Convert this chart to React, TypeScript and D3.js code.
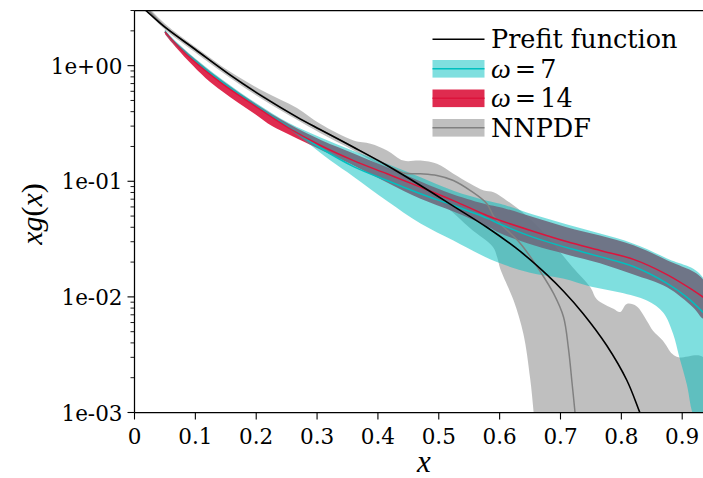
import React from "react";
import * as d3 from "d3";

const W = 703;
const H = 478;

// x tick values and labels
const xTicks = [0, 0.1, 0.2, 0.3, 0.4, 0.5, 0.6, 0.7, 0.8, 0.9];
const xTickLabels = ["0", "0.1", "0.2", "0.3", "0.4", "0.5", "0.6", "0.7", "0.8", "0.9"];
const yTicks = [1e-3, 1e-2, 1e-1, 1];
const yTickLabels = ["1e-03", "1e-02", "1e-01", "1e+00"];

// Prefit function (black)
const prefitX = [0.0, 0.02, 0.05, 0.1, 0.158, 0.212, 0.267, 0.305, 0.36, 0.415, 0.47, 0.524, 0.579, 0.634, 0.678, 0.705, 0.737, 0.776, 0.809, 0.831, 0.86];
const prefitY = [3.7, 2.96, 2.15, 1.38, 0.823, 0.534, 0.359, 0.28, 0.197, 0.137, 0.092, 0.061, 0.04, 0.0247, 0.0155, 0.0112, 0.0072, 0.0038, 0.0019, 0.00098, 0.0004];

// NNPDF band & central line
const nnpdfUpX = [0.01, 0.05, 0.1, 0.158, 0.212, 0.267, 0.305, 0.36, 0.388, 0.415, 0.442, 0.47, 0.497, 0.524, 0.552, 0.574, 0.59, 0.612, 0.634, 0.66, 0.69, 0.72, 0.749, 0.76, 0.787, 0.798, 0.809, 0.825, 0.842, 0.852, 0.868, 0.884, 0.894, 0.935];
const nnpdfUpY = [3.8, 2.3, 1.45, 0.88, 0.6, 0.43, 0.314, 0.225, 0.211, 0.185, 0.151, 0.151, 0.1416, 0.116, 0.095, 0.0832, 0.0805, 0.068, 0.0558, 0.042, 0.028, 0.018, 0.0121, 0.0095, 0.0079, 0.0074, 0.0087, 0.0083, 0.0062, 0.0051, 0.0042, 0.0032, 0.003, 0.003];
const nnpdfLoX = [0.01, 0.05, 0.1, 0.158, 0.212, 0.267, 0.305, 0.36, 0.404, 0.458, 0.514, 0.552, 0.589, 0.596, 0.601, 0.623, 0.639, 0.65, 0.656, 0.66, 0.935];
const nnpdfLoY = [3.4, 2.05, 1.3, 0.78, 0.505, 0.34, 0.262, 0.185, 0.137, 0.096, 0.059, 0.039, 0.027, 0.022, 0.0175, 0.0093, 0.0048, 0.002, 0.00098, 0.0005, 0.0005];
const nnpdfMidX = [0.01, 0.05, 0.1, 0.158, 0.212, 0.267, 0.305, 0.36, 0.4, 0.442, 0.47, 0.497, 0.524, 0.552, 0.579, 0.59, 0.601, 0.634, 0.667, 0.689, 0.705, 0.713, 0.719, 0.724, 0.735];
const nnpdfMidY = [3.6, 2.17, 1.38, 0.83, 0.54, 0.36, 0.28, 0.197, 0.152, 0.118, 0.116, 0.112, 0.1016, 0.083, 0.064, 0.05, 0.043, 0.029, 0.0165, 0.0106, 0.0067, 0.0036, 0.0018, 0.00098, 0.0002];

// omega = 7 (cyan)
const w7X = [0.05, 0.062, 0.089, 0.144, 0.199, 0.253, 0.305, 0.36, 0.415, 0.47, 0.524, 0.579, 0.601, 0.656, 0.71, 0.765, 0.82, 0.875, 0.908, 0.935];
const w7Y = [1.97, 1.65, 1.225, 0.72, 0.453, 0.294, 0.195, 0.134, 0.1016, 0.078, 0.0618, 0.048, 0.0425, 0.0327, 0.0267, 0.0223, 0.0183, 0.0131, 0.0099, 0.0073];
const w7UpX = [0.05, 0.062, 0.089, 0.144, 0.199, 0.253, 0.305, 0.36, 0.415, 0.47, 0.524, 0.579, 0.601, 0.655, 0.711, 0.765, 0.819, 0.875, 0.935];
const w7UpY = [2.05, 1.74, 1.29, 0.76, 0.477, 0.32, 0.24, 0.183, 0.1417, 0.1085, 0.083, 0.068, 0.064, 0.0516, 0.0423, 0.0353, 0.029, 0.0215, 0.0144];
const w7LoX = [0.05, 0.062, 0.089, 0.144, 0.199, 0.253, 0.281, 0.322, 0.36, 0.415, 0.47, 0.524, 0.568, 0.601, 0.65, 0.704, 0.749, 0.798, 0.842, 0.869, 0.885, 0.895, 0.908, 0.917, 0.935];
const w7LoY = [1.92, 1.61, 1.19, 0.7, 0.44, 0.285, 0.222, 0.151, 0.1096, 0.0676, 0.0431, 0.0307, 0.0233, 0.0195, 0.0162, 0.0144, 0.0123, 0.0109, 0.0093, 0.0073, 0.0048, 0.00305, 0.00171, 0.00098, 0.0006];

// omega = 14 (crimson)
const w14X = [0.05, 0.062, 0.089, 0.144, 0.199, 0.253, 0.305, 0.36, 0.415, 0.47, 0.524, 0.579, 0.601, 0.656, 0.71, 0.765, 0.82, 0.875, 0.918, 0.935];
const w14Y = [1.96, 1.66, 1.2, 0.7, 0.445, 0.29, 0.205, 0.151, 0.116, 0.089, 0.068, 0.0506, 0.0458, 0.0368, 0.0301, 0.0252, 0.0211, 0.0156, 0.0114, 0.0099];
const w14UpX = [0.05, 0.062, 0.089, 0.144, 0.199, 0.253, 0.308, 0.36, 0.415, 0.47, 0.524, 0.579, 0.601, 0.656, 0.71, 0.765, 0.82, 0.875, 0.935];
const w14UpY = [2.02, 1.71, 1.27, 0.745, 0.468, 0.314, 0.225, 0.174, 0.132, 0.0996, 0.0769, 0.063, 0.0597, 0.0489, 0.0401, 0.034, 0.0279, 0.0207, 0.0139];
const w14LoX = [0.05, 0.062, 0.089, 0.117, 0.144, 0.171, 0.199, 0.226, 0.253, 0.281, 0.305, 0.36, 0.415, 0.47, 0.524, 0.579, 0.601, 0.656, 0.71, 0.765, 0.82, 0.875, 0.918, 0.935];
const w14LoY = [1.88, 1.57, 1.09, 0.78, 0.6, 0.475, 0.378, 0.3, 0.255, 0.216, 0.188, 0.137, 0.0977, 0.0706, 0.0548, 0.041, 0.0355, 0.0279, 0.0233, 0.0195, 0.0156, 0.0121, 0.0081, 0.0065];

const legendLabels = ["Prefit function", "ω=7", "ω=14", "NNPDF"];

const CYAN = "rgb(0,191,191)";
const CRIMSON = "rgb(220,20,60)";

const zip = (xs: number[], ys: number[]) => xs.map((v, i) => [v, ys[i]] as [number, number]);

export default function App() {
  const left = 134.5;
  const top = 10.5;
  const bottom = 412.5;
  const x = d3.scaleLinear().domain([0, 0.935]).range([left, 703.5]);
  const y = d3.scaleLog().domain([1e-3, 3]).range([bottom, top]);

  const line = d3
    .line<[number, number]>()
    .x((d) => x(d[0]))
    .y((d) => y(d[1]))
    .curve(d3.curveCatmullRom.alpha(0.5));

  const band = (ux: number[], uy: number[], lx: number[], ly: number[]) => {
    const pts = zip(ux, uy).concat(zip(lx, ly).reverse());
    return line(pts) + "Z";
  };

  const minorTicks: number[] = [];
  for (let e = -3; e <= 0; e++) {
    for (let k = 2; k <= 9; k++) {
      const v = k * Math.pow(10, e);
      if (v <= 3.0001) minorTicks.push(v);
    }
  }

  const font = "'DejaVu Serif', serif";
  const mathFont = "'Liberation Serif', 'DejaVu Serif', serif";
  const legX0 = 432.5;
  const legX1 = 484.5;
  const legTextX = 491;
  const rowY = [39.3, 68.8, 98.3, 127.8];
  const legFs = 25.5;

  return (
    <svg
      width={W}
      height={H}
      style={{ position: "absolute", left: 0, top: 0, background: "white" }}
      fontFamily={font}
    >
      <defs>
        <clipPath id="plotclip">
          <rect x={left} y={top} width={W - left} height={bottom - top} />
        </clipPath>
      </defs>
      <rect x={0} y={0} width={W} height={H} fill="white" />
      <g clipPath="url(#plotclip)">
        <path d={band(nnpdfUpX, nnpdfUpY, nnpdfLoX, nnpdfLoY)} fill="gray" fillOpacity={0.5} />
        <path d={band(w14UpX, w14UpY, w14LoX, w14LoY)} fill={CRIMSON} fillOpacity={0.9} />
        <path d={band(w7UpX, w7UpY, w7LoX, w7LoY)} fill={CYAN} fillOpacity={0.5} />
        <path d={line(zip(nnpdfMidX, nnpdfMidY)) || ""} fill="none" stroke="#808080" strokeWidth={1.5} />
        <path d={line(zip(w7X, w7Y)) || ""} fill="none" stroke={CYAN} strokeWidth={1.5} />
        <path d={line(zip(w14X, w14Y)) || ""} fill="none" stroke={CRIMSON} strokeWidth={1.5} />
        <path d={line(zip(prefitX, prefitY)) || ""} fill="none" stroke="black" strokeWidth={1.6} />
      </g>

      {/* spines */}
      <line x1={left} x2={left} y1={top} y2={bottom} stroke="black" strokeWidth={1.25} />
      <line x1={left} x2={W} y1={bottom} y2={bottom} stroke="black" strokeWidth={1.25} />
      <line x1={left} x2={W} y1={top} y2={top} stroke="black" strokeWidth={1.25} />

      {/* x ticks */}
      {xTicks.map((t, i) => (
        <g key={"xt" + i}>
          <line x1={x(t)} x2={x(t)} y1={bottom} y2={bottom + 7} stroke="black" strokeWidth={1.1} />
          <text x={x(t)} y={bottom + 31} fontSize={21.5} textAnchor="middle" fill="black">
            {xTickLabels[i]}
          </text>
        </g>
      ))}

      {/* y ticks */}
      {yTicks.map((t, i) => (
        <g key={"yt" + i}>
          <line x1={left - 7} x2={left} y1={y(t)} y2={y(t)} stroke="black" strokeWidth={1.1} />
          <text x={left - 12} y={y(t) + 8} fontSize={21.5} textAnchor="end" fill="black">
            {yTickLabels[i]}
          </text>
        </g>
      ))}
      {minorTicks.map((t, i) => (
        <line key={"ym" + i} x1={left - 4} x2={left} y1={y(t)} y2={y(t)} stroke="black" strokeWidth={0.9} />
      ))}

      {/* axis labels */}
      <text x={424} y={472} fontSize={31} fontFamily={mathFont} fontStyle="italic" textAnchor="middle" fill="black">
        x
      </text>
      <text transform="translate(42,214) rotate(-90)" fontSize={30} fontFamily={mathFont} textAnchor="middle" fill="black">
        <tspan fontStyle="italic">xg</tspan>
        <tspan>(</tspan>
        <tspan fontStyle="italic">x</tspan>
        <tspan>)</tspan>
      </text>

      {/* legend */}
      <line x1={legX0} x2={legX1} y1={rowY[0]} y2={rowY[0]} stroke="black" strokeWidth={1.6} />
      <text x={legTextX} y={rowY[0] + 9} fontSize={legFs} fill="black">{legendLabels[0]}</text>

      <rect x={legX0} y={rowY[1] - 8.8} width={legX1 - legX0} height={17.6} fill={CYAN} fillOpacity={0.5} />
      <line x1={legX0} x2={legX1} y1={rowY[1]} y2={rowY[1]} stroke={CYAN} strokeWidth={1.5} />
      <text x={legTextX} y={rowY[1] + 9} fontSize={legFs} fill="black">
        <tspan fontStyle="italic" fontFamily={mathFont} fontSize={28}>{legendLabels[1].slice(0, 1)}</tspan>
        <tspan dx={4}>=</tspan>
        <tspan dx={4}>{legendLabels[1].slice(2)}</tspan>
      </text>

      <rect x={legX0} y={rowY[2] - 8.8} width={legX1 - legX0} height={17.6} fill={CRIMSON} fillOpacity={0.9} />
      <line x1={legX0} x2={legX1} y1={rowY[2]} y2={rowY[2]} stroke={CRIMSON} strokeWidth={1.5} />
      <text x={legTextX} y={rowY[2] + 9} fontSize={legFs} fill="black">
        <tspan fontStyle="italic" fontFamily={mathFont} fontSize={28}>{legendLabels[2].slice(0, 1)}</tspan>
        <tspan dx={4}>=</tspan>
        <tspan dx={4}>{legendLabels[2].slice(2)}</tspan>
      </text>

      <rect x={legX0} y={rowY[3] - 8.8} width={legX1 - legX0} height={17.6} fill="gray" fillOpacity={0.5} />
      <line x1={legX0} x2={legX1} y1={rowY[3]} y2={rowY[3]} stroke="#808080" strokeWidth={1.5} />
      <text x={legTextX} y={rowY[3] + 9} fontSize={legFs} fill="black">{legendLabels[3]}</text>
    </svg>
  );
}
